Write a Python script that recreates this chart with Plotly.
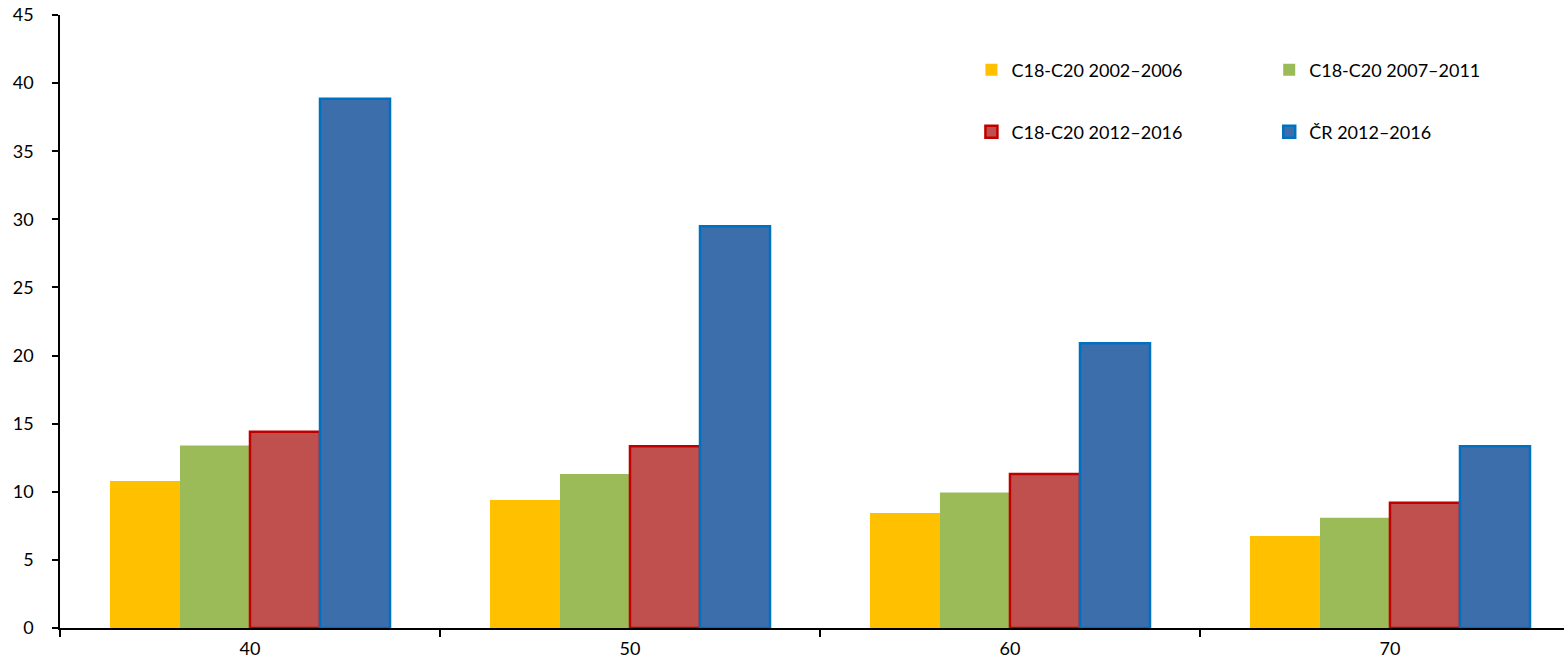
import plotly.graph_objects as go

categories = ["40", "50", "60", "70"]
s1_name = "C18-C20 2002–2006"
s2_name = "C18-C20 2007–2011"
s3_name = "C18-C20 2012–2016"
s4_name = "ČR 2012–2016"
s1 = [10.8, 9.4, 8.45, 6.75]
s2 = [13.4, 11.3, 9.95, 8.1]
s3 = [14.4, 13.35, 11.3, 9.2]
s4 = [38.85, 29.5, 20.9, 13.35]
y_ticks = [0, 5, 10, 15, 20, 25, 30, 35, 40, 45]

FONT = "Lato, 'Open Sans', sans-serif"

fig = go.Figure()
fig.add_bar(x=categories, y=s1, name=s1_name, marker=dict(color="#FFC000", line=dict(width=0)), legend="legend", showlegend=True)
fig.add_bar(x=categories, y=s2, name=s2_name, marker=dict(color="#9BBB59", line=dict(width=0)), legend="legend2", showlegend=True)
fig.add_bar(x=categories, y=s3, name=s3_name, marker=dict(color="#C0504D", line=dict(color="#C00000", width=2.5)), legend="legend3", showlegend=True)
fig.add_bar(x=categories, y=s4, name=s4_name, marker=dict(color="#3C6EAB", line=dict(color="#0070C0", width=2.5)), legend="legend4", showlegend=True)

legend_common = dict(
    xanchor="left", yanchor="middle", visible=True,
    font=dict(family=FONT, size=18, color="#000000"),
    bgcolor="rgba(0,0,0,0)", itemwidth=30,
)
col1 = 0.606
col2 = 0.804
row1 = (628 - 70) / 613
row2 = (628 - 132) / 613

fig.update_layout(
    width=1564, height=667,
    showlegend=True,
    margin=dict(l=60, r=0, t=15, b=39),
    plot_bgcolor="white", paper_bgcolor="white",
    barmode="group", bargap=0.263, bargroupgap=0,
    font=dict(family=FONT, size=18, color="#000000"),
    legend=dict(x=col1, y=row1, **legend_common),
    legend2=dict(x=col2, y=row1, **legend_common),
    legend3=dict(x=col1, y=row2, **legend_common),
    legend4=dict(x=col2, y=row2, **legend_common),
    xaxis=dict(
        type="category", range=[-0.5, 3.458], automargin=False,
        showline=True, linecolor="#000000", linewidth=1.5,
        ticks="outside", tickson="boundaries", ticklen=7, tickcolor="#000000", tickwidth=1.5,
        showgrid=False, tickfont=dict(size=18), ticklabelstandoff=4,
    ),
    yaxis=dict(
        range=[0, 45], tickvals=y_ticks, automargin=False,
        showline=True, linecolor="#000000", linewidth=1.5,
        ticks="outside", ticklen=6, tickcolor="#000000", tickwidth=1.5,
        showgrid=False, zeroline=False, tickfont=dict(size=18), ticklabelstandoff=15,
    ),
)

fig.write_html("out.html")
